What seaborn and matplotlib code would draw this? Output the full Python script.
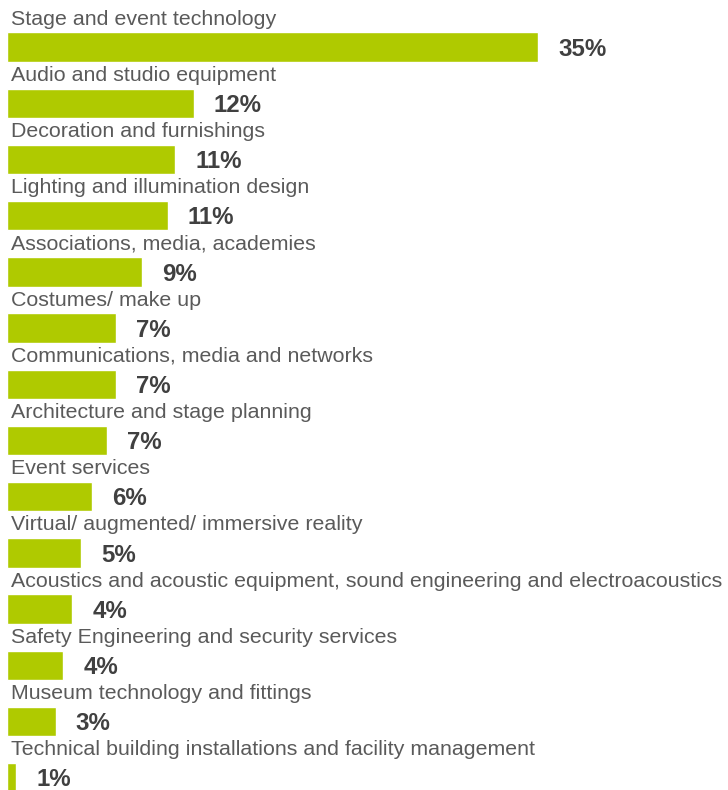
import matplotlib
matplotlib.use("Agg")
import matplotlib.pyplot as plt
import seaborn as sns
import pandas as pd

categories = [
    "Stage and event technology",
    "Audio and studio equipment",
    "Decoration and furnishings",
    "Lighting and illumination design",
    "Associations, media, academies",
    "Costumes/ make up",
    "Communications, media and networks",
    "Architecture and stage planning",
    "Event services",
    "Virtual/ augmented/ immersive reality",
    "Acoustics and acoustic equipment, sound engineering and electroacoustics",
    "Safety Engineering and security services",
    "Museum technology and fittings",
    "Technical building installations and facility management",
]
shares = [35.0, 12.3, 11.1, 10.6, 8.9, 7.2, 7.2, 6.6, 5.6, 4.9, 4.3, 3.7, 3.2, 0.6]

df = pd.DataFrame({"category": categories, "share": shares})

sns.set_theme(style="white")
plt.rcParams["font.family"] = ["Liberation Sans", "DejaVu Sans"]

fig = plt.figure(figsize=(7.28, 7.9), dpi=100)
ax = fig.add_axes([0, 0, 1, 1])

sns.barplot(data=df, x="share", y="category", orient="h",
            color="#afca00", saturation=1, width=0.525, ax=ax)

px_per_unit = 531 / 35.0
ax.set_xlim(-7 / px_per_unit, (728 - 7) / px_per_unit)
row_px = 56.2
ax.set_ylim((790 - 47.1) / row_px, -47.1 / row_px)
ax.axis("off")

for i, (cat, v) in enumerate(zip(categories, shares)):
    ax.text(0.25, i - 0.40, cat, ha="left", va="baseline",
            fontsize=15.4, color="#5a5a5a")
    ax.text(v + 20 / px_per_unit, i + 0.04, f"{v:.0f}%", ha="left",
            va="center", fontsize=17.3, fontweight="bold", color="#404040")

fig.savefig("out.png", dpi=100)
